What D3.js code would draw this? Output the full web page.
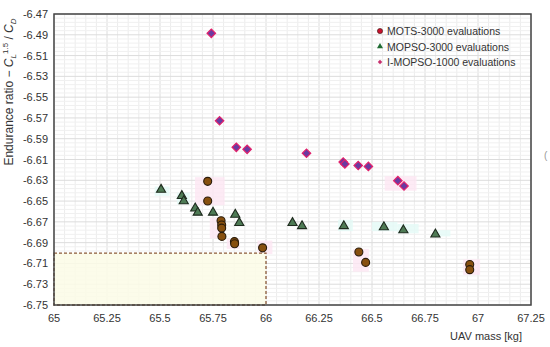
<!DOCTYPE html>
<html>
<head>
<meta charset="utf-8">
<script src="https://cdn.jsdelivr.net/npm/d3@7"></script>
<style>
  body { margin: 0; background: #fff; }
  svg text { font-family: "Liberation Sans", Arial, sans-serif; }
</style>
</head>
<body>
<div id="chart"></div>
<script>
// ---- data ----
const motsMass = [65.725, 65.725, 65.788, 65.791, 65.791, 65.792, 65.851, 65.852, 65.984, 66.438, 66.470, 66.961, 66.961];
const motsRatio = [-6.631, -6.650, -6.669, -6.673, -6.676, -6.684, -6.689, -6.691, -6.695, -6.699, -6.709, -6.711, -6.716];

const mopsoMass = [65.505, 65.603, 65.612, 65.666, 65.678, 65.750, 65.855, 65.874, 66.125, 66.170, 66.367, 66.556, 66.648, 66.799];
const mopsoRatio = [-6.639, -6.645, -6.650, -6.657, -6.661, -6.661, -6.663, -6.671, -6.671, -6.674, -6.674, -6.675, -6.678, -6.682];

const imopsoMass = [65.742, 65.781, 65.860, 65.911, 66.191, 66.364, 66.372, 66.435, 66.483, 66.622, 66.651];
const imopsoRatio = [-6.4886, -6.5727, -6.5983, -6.6002, -6.6040, -6.6124, -6.6143, -6.6158, -6.6167, -6.6304, -6.6355];

const seriesNames = ["MOTS-3000 evaluations", "MOPSO-3000 evaluations", "I-MOPSO-1000 evaluations"];

const xTicks = [65, 65.25, 65.5, 65.75, 66, 66.25, 66.5, 66.75, 67, 67.25];
const yTicks = [-6.47, -6.49, -6.51, -6.53, -6.55, -6.57, -6.59, -6.61, -6.63, -6.65, -6.67, -6.69, -6.71, -6.73, -6.75];

// faint highlight boxes behind some clusters [x0, x1, y0, y1]
const pinkBoxes = [
  [65.665, 65.805, -6.627, -6.654],
  [65.735, 65.785, -6.666, -6.686],
  [65.815, 65.875, -6.686, -6.696],
  [65.96, 66.03, -6.688, -6.701],
  [66.41, 66.485, -6.696, -6.718],
  [66.93, 67.01, -6.706, -6.721],
  [66.56, 66.71, -6.626, -6.640]
];
const cyanBoxes = [
  [65.475, 65.545, -6.636, -6.645],
  [65.58, 65.64, -6.642, -6.653],
  [66.34, 66.41, -6.668, -6.679],
  [66.50, 66.62, -6.670, -6.679],
  [66.62, 66.72, -6.672, -6.681],
  [66.79, 66.87, -6.678, -6.684]
];
const zoomBox = [65, 66, -6.70, -6.75];

// ---- layout ----
const width = 550, height = 347;
const plotL = 54, plotR = 531, plotT = 14, plotB = 305;

const svg = d3.select("#chart").append("svg")
  .attr("width", width)
  .attr("height", height);

const x = d3.scaleLinear().domain([65, 67.25]).range([plotL, plotR]);
const y = d3.scaleLinear().domain([-6.75, -6.47]).range([plotB, plotT]);

// grid
const grid = svg.append("g");
const xMinor = d3.range(0, 46).map(i => 65 + i * 0.05);
const yMinor = d3.range(0, 71).map(i => -6.75 + i * 0.004);

grid.selectAll("line.vx")
  .data(xMinor)
  .enter().append("line")
  .attr("x1", d => x(d)).attr("x2", d => x(d))
  .attr("y1", plotT).attr("y2", plotB)
  .attr("stroke", (d, i) => i % 5 === 0 ? "#dcdcdc" : "#ececec")
  .attr("stroke-width", 1);

grid.selectAll("line.hy")
  .data(yMinor)
  .enter().append("line")
  .attr("y1", d => y(d)).attr("y2", d => y(d))
  .attr("x1", plotL).attr("x2", plotR)
  .attr("stroke", (d, i) => i % 5 === 0 ? "#dcdcdc" : "#f0f0f0")
  .attr("stroke-width", 1);

// highlight boxes
const boxLayer = svg.append("g");
boxLayer.selectAll("rect.pink")
  .data(pinkBoxes)
  .enter().append("rect")
  .attr("x", d => x(d[0])).attr("width", d => x(d[1]) - x(d[0]))
  .attr("y", d => y(d[2])).attr("height", d => y(d[3]) - y(d[2]))
  .attr("fill", "#fde6f3").attr("opacity", 0.8);
boxLayer.selectAll("rect.cyan")
  .data(cyanBoxes)
  .enter().append("rect")
  .attr("x", d => x(d[0])).attr("width", d => x(d[1]) - x(d[0]))
  .attr("y", d => y(d[2])).attr("height", d => y(d[3]) - y(d[2]))
  .attr("fill", "#e3faf6").attr("opacity", 0.8);

// dashed region bottom-left
svg.append("rect")
  .attr("x", x(zoomBox[0]))
  .attr("y", y(zoomBox[2]))
  .attr("width", x(zoomBox[1]) - x(zoomBox[0]))
  .attr("height", y(zoomBox[3]) - y(zoomBox[2]))
  .attr("fill", "#fbfbe6")
  .attr("fill-opacity", 0.85)
  .attr("stroke", "#8a5a3a")
  .attr("stroke-width", 1.3)
  .attr("stroke-dasharray", "3,2");

// plot frame
svg.append("rect")
  .attr("x", plotL).attr("y", plotT)
  .attr("width", plotR - plotL).attr("height", plotB - plotT)
  .attr("fill", "none")
  .attr("stroke", "#444")
  .attr("stroke-width", 1.5);

// tick labels
svg.append("g").selectAll("text")
  .data(xTicks)
  .enter().append("text")
  .attr("x", d => x(d))
  .attr("y", plotB + 17)
  .attr("text-anchor", "middle")
  .attr("font-size", "11px")
  .attr("fill", "#333")
  .text(d => String(+d.toFixed(2)));

svg.append("g").selectAll("text")
  .data(yTicks)
  .enter().append("text")
  .attr("x", plotL - 6)
  .attr("y", d => y(d) + 4)
  .attr("text-anchor", "end")
  .attr("font-size", "11px")
  .attr("fill", "#333")
  .text(d => d.toFixed(2));

// axis titles
svg.append("text")
  .attr("x", 522)
  .attr("y", 340)
  .attr("text-anchor", "end")
  .attr("font-size", "11px")
  .attr("fill", "#333")
  .text("UAV mass [kg]");

const yTitle = svg.append("text")
  .attr("transform", "translate(13,92) rotate(-90)")
  .attr("text-anchor", "middle")
  .attr("font-size", "12px")
  .attr("fill", "#333");
yTitle.append("tspan").text("Endurance ratio  \u2212 ");
yTitle.append("tspan").attr("font-style", "italic").text("C");
yTitle.append("tspan").attr("font-style", "italic").attr("font-size", "8px").attr("dy", 3).text("L");
yTitle.append("tspan").attr("font-size", "8px").attr("dy", -8).text("1.5");
yTitle.append("tspan").attr("dy", 5).text(" / ");
yTitle.append("tspan").attr("font-style", "italic").text("C");
yTitle.append("tspan").attr("font-style", "italic").attr("font-size", "8px").attr("dy", 3).text("D");

// stray glyph at right edge
svg.append("text")
  .attr("x", 544).attr("y", 159)
  .attr("font-size", "10px").attr("fill", "#999")
  .text("(");

// points
const mots = motsMass.map((m, i) => ({ m, r: motsRatio[i] }));
const mopso = mopsoMass.map((m, i) => ({ m, r: mopsoRatio[i] }));
const imopso = imopsoMass.map((m, i) => ({ m, r: imopsoRatio[i] }));

const tri = d3.symbol().type(d3.symbolTriangle).size(36);
const dia = d3.symbol().type(d3.symbolSquare).size(36);

svg.append("g").selectAll("path")
  .data(mopso)
  .enter().append("path")
  .attr("d", tri)
  .attr("transform", d => `translate(${x(d.m)},${y(d.r)})`)
  .attr("fill", "#4e7b55")
  .attr("stroke", "#1e2b1e")
  .attr("stroke-width", 1.1);

svg.append("g").selectAll("circle")
  .data(mots)
  .enter().append("circle")
  .attr("cx", d => x(d.m))
  .attr("cy", d => y(d.r))
  .attr("r", 4)
  .attr("fill", "#87500f")
  .attr("stroke", "#2a1c0c")
  .attr("stroke-width", 1.1);

svg.append("g").selectAll("path")
  .data(imopso)
  .enter().append("path")
  .attr("d", dia)
  .attr("transform", d => `translate(${x(d.m)},${y(d.r)}) rotate(45)`)
  .attr("fill", "#6a3aa0")
  .attr("stroke", "#e3206a")
  .attr("stroke-width", 1.2);

// legend
const legend = svg.append("g").attr("transform", "translate(380,31)");
seriesNames.forEach((name, i) => {
  const row = legend.append("g").attr("transform", `translate(0,${i * 15.5})`);
  if (i === 0) {
    row.append("circle").attr("r", 2.6).attr("fill", "#c8102e").attr("stroke", "#3a1a10").attr("stroke-width", 0.6);
  } else if (i === 1) {
    row.append("path").attr("d", d3.symbol().type(d3.symbolTriangle).size(16)).attr("fill", "#1f6b32");
  } else {
    row.append("path").attr("d", d3.symbol().type(d3.symbolSquare).size(10))
      .attr("transform", "rotate(45)").attr("fill", "#c8306e");
  }
  row.append("text")
    .attr("x", 7).attr("y", 4)
    .attr("font-size", "10.5px")
    .attr("fill", "#333")
    .text(name);
});
</script>
</body>
</html>
